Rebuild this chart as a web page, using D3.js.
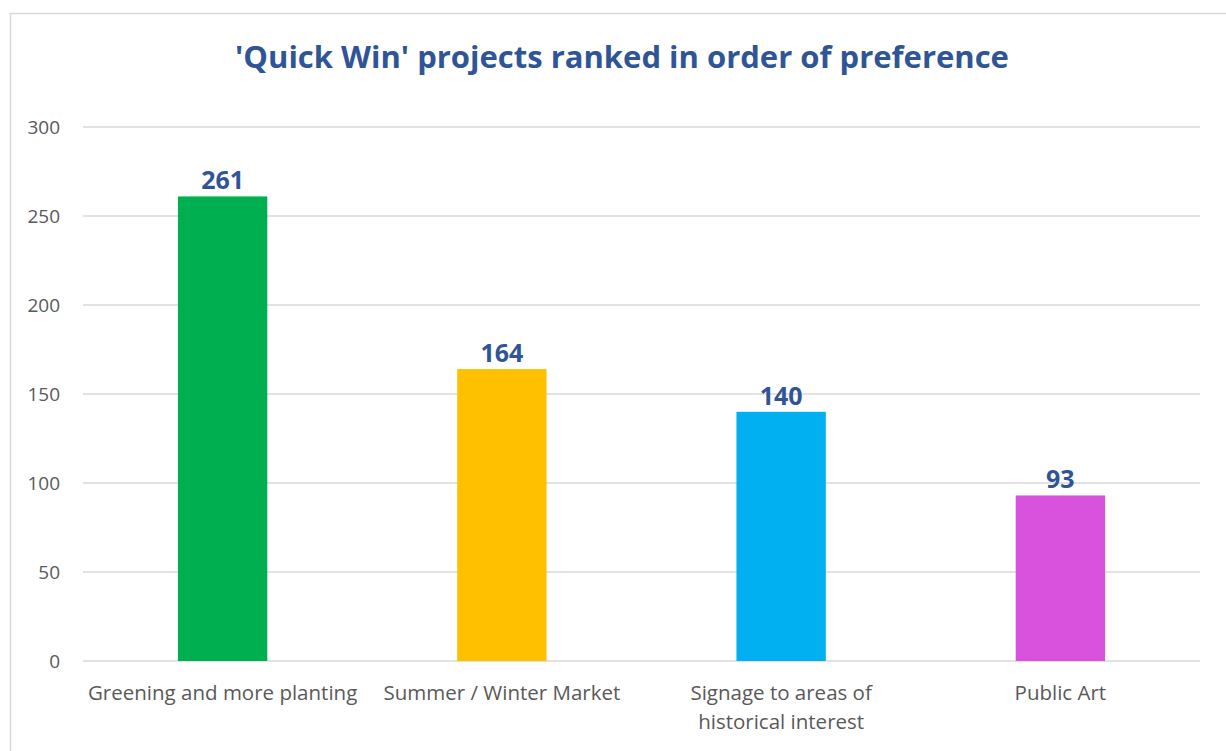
<!DOCTYPE html>
<html>
<head>
<meta charset="utf-8">
<script src="https://cdn.jsdelivr.net/npm/d3@7"></script>
<style>
  body { margin: 0; background: #fff; }
  svg { display: block; font-family: "Open Sans", "Noto Sans", sans-serif; }
</style>
</head>
<body>
<div id="chart"></div>
<script>
const categories = ["Greening and more planting", "Summer / Winter Market", "Signage to areas of historical interest", "Public Art"];
const categoryLines = [["Greening and more planting"], ["Summer / Winter Market"], ["Signage to areas of", "historical interest"], ["Public Art"]];
const values = [261, 164, 140, 93];
const barColors = ["#00B050", "#FFC000", "#00B0F0", "#D952DE"];
const yTicks = [0, 50, 100, 150, 200, 250, 300];

const config = {
    width: 1226,
    height: 751,
    margin: { top: 127, right: 26, bottom: 90, left: 83 }
};
config.plotW = config.width - config.margin.left - config.margin.right;
config.plotH = config.height - config.margin.top - config.margin.bottom;

const svg = d3.select("#chart")
    .append("svg")
    .attr("width", config.width)
    .attr("height", config.height);

// outer chart border (only left and top visible in the crop)
svg.append("rect")
    .attr("x", 10.5)
    .attr("y", 13.5)
    .attr("width", 1240)
    .attr("height", 760)
    .attr("fill", "none")
    .attr("stroke", "#D9D9D9")
    .attr("stroke-width", 1.5);

svg.append("text")
    .attr("x", 622)
    .attr("y", 68)
    .attr("text-anchor", "middle")
    .style("font-size", "31px")
    .style("font-weight", "bold")
    .style("fill", "#2F5597")
    .text("'Quick Win' projects ranked in order of preference");

const g = svg.append("g")
    .attr("transform", "translate(" + config.margin.left + "," + config.margin.top + ")");

const xScale = d3.scaleBand()
    .domain(categories)
    .range([0, config.plotW])
    .paddingInner(0.68)
    .paddingOuter(0.34);

const yScale = d3.scaleLinear()
    .domain([0, 300])
    .range([config.plotH, 0]);

// gridlines
g.append("g")
    .selectAll("line")
    .data(yTicks)
    .enter().append("line")
    .attr("x1", 0)
    .attr("x2", config.plotW)
    .attr("y1", d => yScale(d))
    .attr("y2", d => yScale(d))
    .style("stroke", "#D9D9D9")
    .style("stroke-width", 1.5);

// y axis labels
const yAxis = g.append("g")
    .call(d3.axisLeft(yScale).tickValues(yTicks).tickSize(0).tickPadding(23));
yAxis.select(".domain").remove();
yAxis.selectAll("text")
    .style("font-family", "'Open Sans', sans-serif")
    .style("font-size", "19px")
    .style("fill", "#595959");

// bars
g.append("g")
    .selectAll("rect")
    .data(values)
    .enter().append("rect")
    .attr("x", (d, i) => xScale(categories[i]))
    .attr("y", d => yScale(d))
    .attr("width", xScale.bandwidth())
    .attr("height", d => config.plotH - yScale(d))
    .style("fill", (d, i) => barColors[i]);

// value labels
g.append("g")
    .selectAll("text")
    .data(values)
    .enter().append("text")
    .attr("x", (d, i) => xScale(categories[i]) + xScale.bandwidth() / 2)
    .attr("y", d => yScale(d) - 7)
    .attr("text-anchor", "middle")
    .style("font-size", "25px")
    .style("font-weight", "bold")
    .style("fill", "#2F5597")
    .text(d => d);

// category labels
const catLabels = g.append("g")
    .selectAll("text")
    .data(categories)
    .enter().append("text")
    .attr("x", d => xScale(d) + xScale.bandwidth() / 2)
    .attr("y", config.plotH + 39)
    .attr("text-anchor", "middle")
    .style("font-size", "20.5px")
    .style("fill", "#595959");

catLabels.each(function(d, i) {
    d3.select(this).selectAll("tspan")
        .data(categoryLines[i])
        .enter().append("tspan")
        .attr("x", xScale(d) + xScale.bandwidth() / 2)
        .attr("dy", (t, j) => j === 0 ? 0 : 29)
        .text(t => t);
});
</script>
</body>
</html>
